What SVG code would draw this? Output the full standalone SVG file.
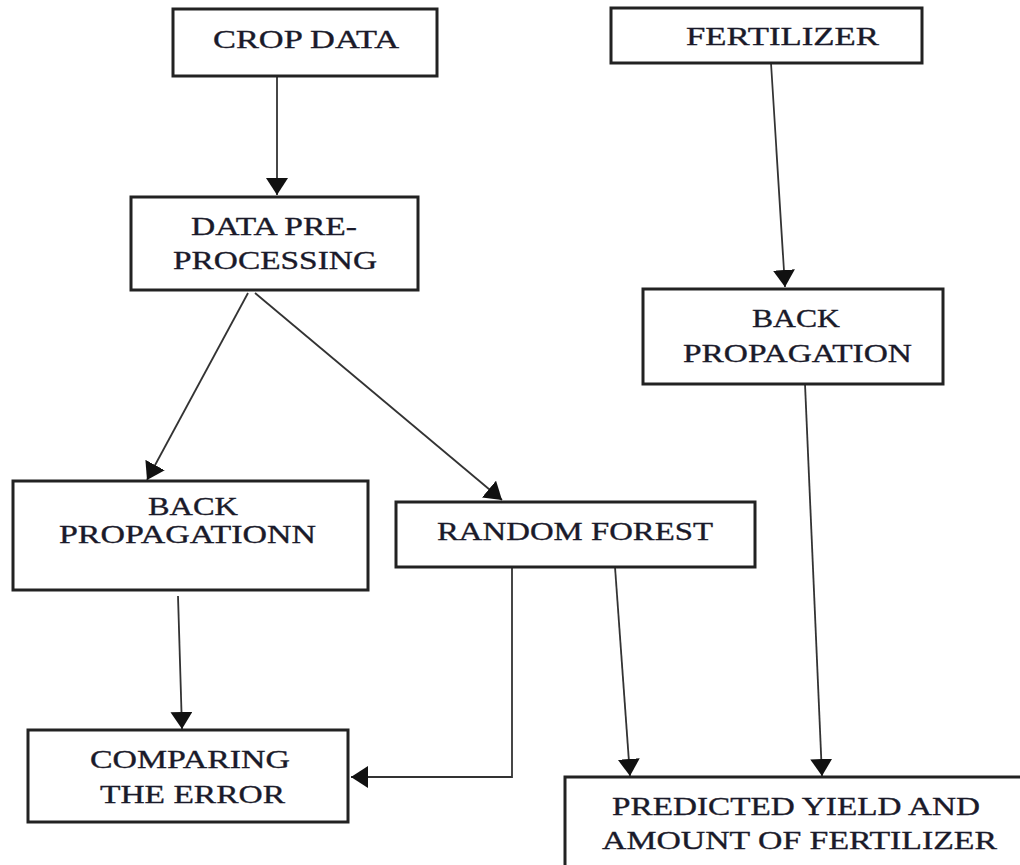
<svg xmlns="http://www.w3.org/2000/svg" width="1020" height="865" viewBox="0 0 1020 865">
<style>
.box{fill:#fff;stroke:#222;stroke-width:3}
.t{font-family:"Liberation Serif","Times New Roman",serif;font-size:26px;fill:#1a1a2a;stroke:#1a1a2a;stroke-width:0.35;text-anchor:middle}
.c{fill:none;stroke:#333;stroke-width:1.8}
</style>
<defs>
<marker id="ah" markerWidth="17" markerHeight="22" refX="17" refY="11" orient="auto" markerUnits="userSpaceOnUse">
<path d="M0,0 L17,11 L0,22 z" fill="#111"/>
</marker>
</defs>
<rect width="1020" height="865" fill="#fff"/>
<g id="connectors">
<line class="c" x1="277" y1="76" x2="277" y2="195" marker-end="url(#ah)"/>
<line class="c" x1="771" y1="63" x2="785" y2="287" marker-end="url(#ah)"/>
<line class="c" x1="248" y1="293" x2="147" y2="480" marker-end="url(#ah)"/>
<line class="c" x1="255" y1="293" x2="502" y2="500" marker-end="url(#ah)"/>
<line class="c" x1="178" y1="596" x2="182" y2="729" marker-end="url(#ah)"/>
<polyline class="c" points="512,567 512,777 351,777" marker-end="url(#ah)"/>
<line class="c" x1="615" y1="567" x2="630" y2="776" marker-end="url(#ah)"/>
<line class="c" x1="805" y1="384" x2="822" y2="776" marker-end="url(#ah)"/>
</g>
<g id="crop-data">
<rect class="box" x="173" y="9" width="264" height="67"/>
<text class="t" x="306" y="48" textLength="186" lengthAdjust="spacingAndGlyphs">CROP DATA</text>
</g>
<g id="fertilizer">
<rect class="box" x="611" y="8" width="311" height="55"/>
<text class="t" x="782.5" y="45" textLength="193" lengthAdjust="spacingAndGlyphs">FERTILIZER</text>
</g>
<g id="data-preprocessing">
<rect class="box" x="131" y="197" width="287" height="93"/>
<text class="t" x="274" y="235" textLength="166" lengthAdjust="spacingAndGlyphs">DATA PRE-</text>
<text class="t" x="275" y="269" textLength="204" lengthAdjust="spacingAndGlyphs">PROCESSING</text>
</g>
<g id="back-propagation-right">
<rect class="box" x="643" y="289" width="300" height="95"/>
<text class="t" x="796" y="327" textLength="88" lengthAdjust="spacingAndGlyphs">BACK</text>
<text class="t" x="797.5" y="362" textLength="229" lengthAdjust="spacingAndGlyphs">PROPAGATION</text>
</g>
<g id="back-propagationn-left">
<rect class="box" x="13" y="481" width="355" height="109"/>
<text class="t" x="193" y="515" textLength="90" lengthAdjust="spacingAndGlyphs">BACK</text>
<text class="t" x="187.5" y="543" textLength="257" lengthAdjust="spacingAndGlyphs">PROPAGATIONN</text>
</g>
<g id="random-forest">
<rect class="box" x="396" y="502" width="359" height="65"/>
<text class="t" x="575" y="540" textLength="276" lengthAdjust="spacingAndGlyphs">RANDOM FOREST</text>
</g>
<g id="comparing-error">
<rect class="box" x="28" y="730" width="320" height="92"/>
<text class="t" x="190" y="768" textLength="200" lengthAdjust="spacingAndGlyphs">COMPARING</text>
<text class="t" x="192.5" y="803" textLength="185" lengthAdjust="spacingAndGlyphs">THE ERROR</text>
</g>
<g id="predicted-yield">
<rect class="box" x="565" y="777" width="470" height="100"/>
<text class="t" x="796" y="815" textLength="368" lengthAdjust="spacingAndGlyphs">PREDICTED YIELD AND</text>
<text class="t" x="799.5" y="849" textLength="395" lengthAdjust="spacingAndGlyphs">AMOUNT OF FERTILIZER</text>
</g>
</svg>
